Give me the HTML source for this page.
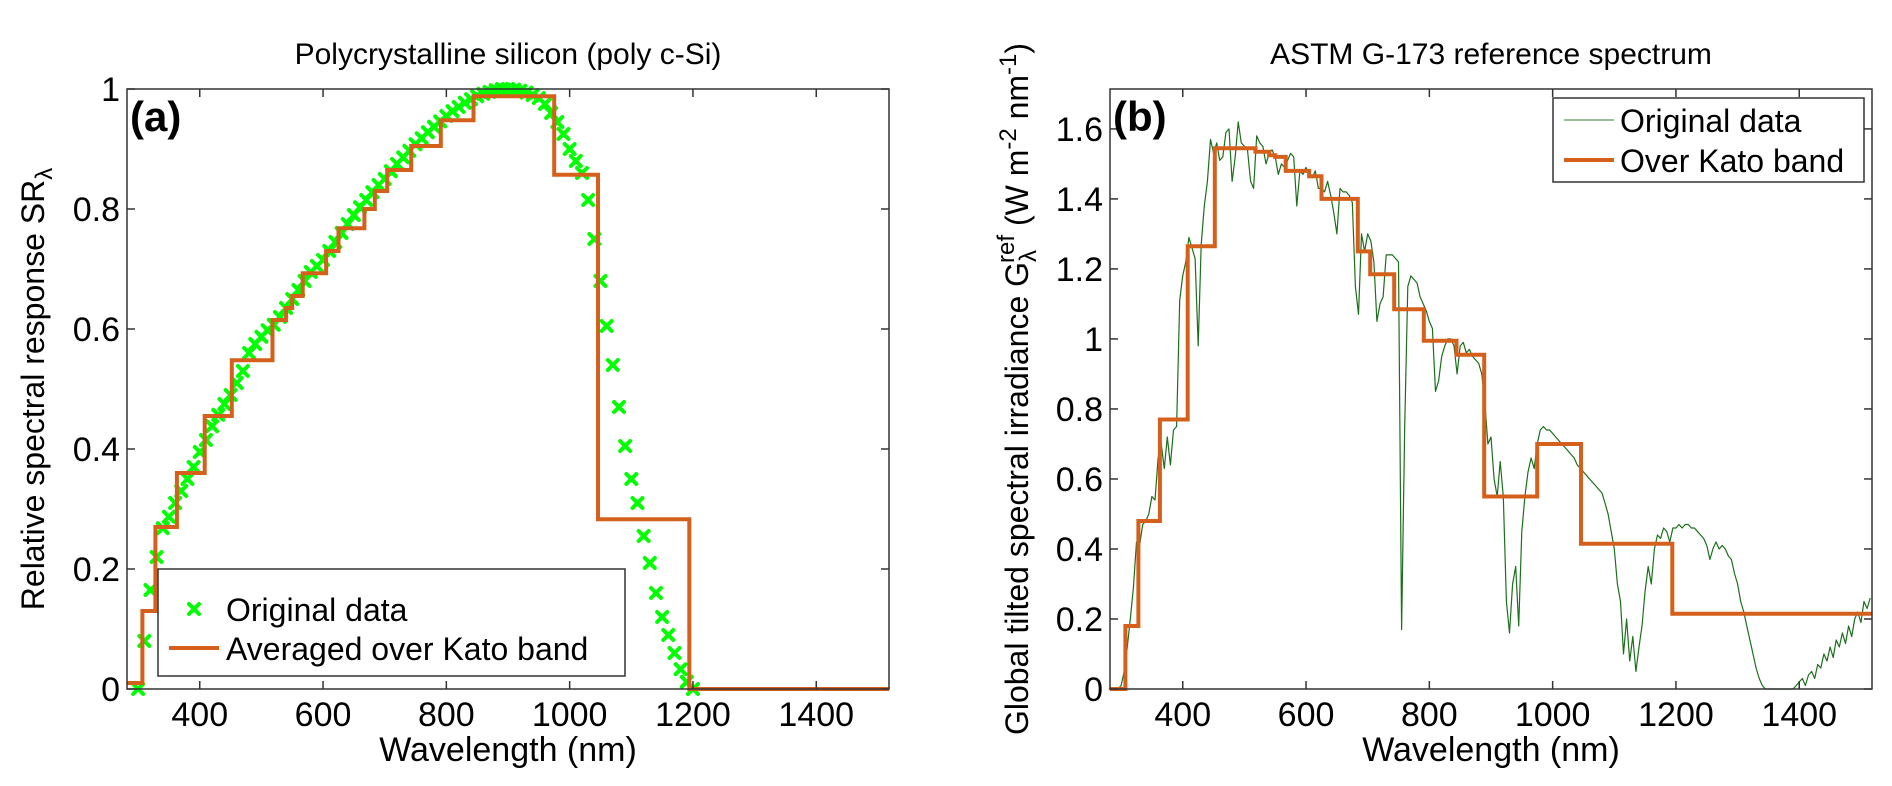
<!DOCTYPE html>
<html><head><meta charset="utf-8"><style>
html,body{margin:0;padding:0;background:#fff;}
svg{display:block;font-family:"Liberation Sans",Arial,sans-serif;}
</style></head><body>
<svg id="fig" width="1892" height="786" viewBox="0 0 1892 786" xmlns="http://www.w3.org/2000/svg">
<rect x="0" y="0" width="1892" height="786" fill="#fff"/>
<g id="pa"></g>
<g id="pb"></g>
</svg>
<script>
const xTicks = [400, 600, 800, 1000, 1200, 1400];
const aYTicks = [0, 0.2, 0.4, 0.6, 0.8, 1];
const aYTickLabels = ["0", "0.2", "0.4", "0.6", "0.8", "1"];
const bYTicks = [0, 0.2, 0.4, 0.6, 0.8, 1, 1.2, 1.4, 1.6];
const bYTickLabels = ["0", "0.2", "0.4", "0.6", "0.8", "1", "1.2", "1.4", "1.6"];
const katoEdges = [282, 307, 328, 363, 408, 452, 518, 540, 550, 567, 605, 625, 667, 684, 704, 743, 791, 844, 889, 975, 1046, 1194, 1518];
const srKato = [0.01, 0.13, 0.27, 0.36, 0.455, 0.548, 0.615, 0.635, 0.655, 0.693, 0.73, 0.768, 0.80, 0.83, 0.865, 0.905, 0.948, 0.988, 0.988, 0.857, 0.283, 0];
const gKato = [0, 0.18, 0.48, 0.77, 1.265, 1.545, 1.535, 1.525, 1.52, 1.48, 1.465, 1.40, 1.40, 1.25, 1.185, 1.085, 0.995, 0.955, 0.55, 0.70, 0.415, 0.215];
const srWl = [300,310,320,330,340,350,360,370,380,390,400,410,420,430,440,450,460,470,480,490,500,510,520,530,540,550,560,570,580,590,600,610,620,630,640,650,660,670,680,690,700,710,720,730,740,750,760,770,780,790,800,810,820,830,840,850,860,870,880,890,900,910,920,930,940,950,960,970,980,990,1000,1010,1020,1030,1040,1050,1060,1070,1080,1090,1100,1110,1120,1130,1140,1150,1160,1170,1180,1190,1200];
const srVal = [0,0.08,0.165,0.22,0.268,0.287,0.31,0.33,0.35,0.37,0.395,0.415,0.438,0.457,0.475,0.49,0.51,0.53,0.56,0.575,0.587,0.598,0.607,0.62,0.635,0.65,0.665,0.68,0.695,0.705,0.715,0.73,0.745,0.76,0.775,0.79,0.803,0.815,0.828,0.84,0.85,0.863,0.875,0.886,0.897,0.908,0.918,0.928,0.937,0.946,0.955,0.963,0.97,0.977,0.983,0.988,0.992,0.995,0.998,1.0,1.0,0.999,0.997,0.994,0.99,0.985,0.975,0.96,0.945,0.925,0.90,0.88,0.86,0.815,0.75,0.68,0.605,0.54,0.47,0.405,0.35,0.31,0.255,0.21,0.16,0.12,0.09,0.06,0.033,0.012,0];
const gWl = [];
for (let w = 280; w <= 1520; w += 5) gWl.push(w);
const gVal = [0,0,0,0,0.01,0.05,0.12,0.2,0.29,0.42,0.41,0.47,0.48,0.50,0.55,0.54,0.66,0.70,0.63,0.72,0.64,0.74,0.75,1.11,1.18,1.22,1.29,1.26,1.23,0.98,1.27,1.38,1.45,1.57,1.53,1.56,1.51,1.52,1.59,1.60,1.45,1.52,1.62,1.56,1.55,1.54,1.45,1.43,1.58,1.56,1.55,1.50,1.53,1.54,1.52,1.47,1.50,1.49,1.51,1.53,1.52,1.38,1.48,1.47,1.49,1.47,1.46,1.48,1.43,1.43,1.42,1.45,1.41,1.36,1.30,1.43,1.42,1.42,1.41,1.39,1.15,1.07,1.30,1.25,1.30,1.28,1.22,1.05,1.10,1.12,1.24,1.24,1.24,1.23,1.22,0.17,0.75,1.15,1.18,1.17,1.16,1.12,1.10,1.08,1.05,1.03,0.85,0.88,0.95,0.98,1.00,1.00,0.98,0.90,0.98,0.99,0.96,0.97,0.95,0.94,0.93,0.90,0.82,0.70,0.72,0.60,0.55,0.65,0.55,0.25,0.16,0.30,0.35,0.18,0.45,0.55,0.62,0.66,0.63,0.70,0.74,0.75,0.74,0.74,0.73,0.72,0.71,0.70,0.69,0.68,0.67,0.66,0.64,0.63,0.62,0.61,0.60,0.59,0.58,0.57,0.56,0.53,0.50,0.45,0.40,0.30,0.25,0.10,0.20,0.08,0.15,0.05,0.12,0.18,0.28,0.35,0.30,0.40,0.44,0.43,0.46,0.45,0.42,0.46,0.46,0.47,0.46,0.47,0.47,0.46,0.46,0.45,0.44,0.43,0.41,0.37,0.40,0.42,0.40,0.41,0.40,0.38,0.37,0.33,0.30,0.25,0.22,0.18,0.14,0.10,0.06,0.03,0.01,0,0,0,0,0,0,0,0,0,0,0.01,0.02,0.03,0.01,0.04,0.05,0.03,0.07,0.06,0.10,0.08,0.12,0.09,0.14,0.12,0.16,0.13,0.18,0.15,0.20,0.22,0.19,0.25,0.23,0.26];

const NS = "http://www.w3.org/2000/svg";
const ORANGE = "#d4601c";
function mk(parent, tag, attrs, text) {
  const e = document.createElementNS(NS, tag);
  for (const k in attrs) e.setAttribute(k, attrs[k]);
  if (text !== undefined) e.textContent = text;
  parent.appendChild(e);
  return e;
}
const XMIN = 282, XMAX = 1518, TOP = 89, BOT = 689;
function makeAxes(g, x0, x1, ymax) {
  const sx = v => x0 + (v - XMIN) / (XMAX - XMIN) * (x1 - x0);
  const sy = v => BOT - v / ymax * (BOT - TOP);
  return {sx, sy};
}
function drawFrame(g, x0, x1, ax, yTicks, yLabels) {
  xTicks.forEach(t => {
    const x = ax.sx(t);
    const tb = mk(g, "line", {x1: x, y1: BOT, x2: x, y2: BOT - 8, stroke: "#333", "stroke-width": 1.5});
    
    
    const tt = mk(g, "line", {x1: x, y1: TOP, x2: x, y2: TOP + 8, stroke: "#333", "stroke-width": 1.5});
    
    
    const lb = mk(g, "text", {x: x, y: 726, "font-size": 34, "text-anchor": "middle", fill: "#000"}, String(t));
    
    
  });
  yTicks.forEach((t, i) => {
    const y = ax.sy(t);
    const tl = mk(g, "line", {x1: x0, y1: y, x2: x0 + 8, y2: y, stroke: "#333", "stroke-width": 1.5});
    
    
    const tr = mk(g, "line", {x1: x1, y1: y, x2: x1 - 8, y2: y, stroke: "#333", "stroke-width": 1.5});
    
    
    const lb = mk(g, "text", {x: x0 - 7, y: y + 12, "font-size": 34, "text-anchor": "end", fill: "#000"}, yLabels[i]);
    
    
  });
  const fr = mk(g, "rect", {x: x0, y: TOP, width: x1 - x0, height: BOT - TOP, fill: "none", stroke: "#333", "stroke-width": 1.5});
  
  
}
function stepPath(ax, vals) {
  let d = "";
  for (let i = 0; i < vals.length; i++) {
    const xa = ax.sx(katoEdges[i]), xb = ax.sx(katoEdges[i + 1]), y = ax.sy(vals[i]);
    d += (i === 0 ? "M" : "L") + xa.toFixed(1) + "," + y.toFixed(1) + "L" + xb.toFixed(1) + "," + y.toFixed(1);
  }
  return d;
}

/* ---------- Panel A ---------- */
const ga = document.getElementById("pa");
const A0 = 127, A1 = 889;
const axA = makeAxes(ga, A0, A1, 1);
const mg = mk(ga, "g", {stroke: "#00ff00", "stroke-width": 4, "stroke-linecap": "round"});


srWl.forEach((w, i) => {
  const x = axA.sx(w), y = axA.sy(srVal[i]);
  const m = mk(mg, "path", {d: `M${x-5},${y-5}L${x+5},${y+5}M${x-5},${y+5}L${x+5},${y-5}`});
  
  
});
const sa = mk(ga, "path", {d: stepPath(axA, srKato), fill: "none", stroke: ORANGE, "stroke-width": 4, "stroke-linejoin": "miter"});


drawFrame(ga, A0, A1, axA, aYTicks, aYTickLabels);
mk(ga, "text", {x: 508, y: 64, "font-size": 30, "text-anchor": "middle",  }, "Polycrystalline silicon (poly c-Si)");
mk(ga, "text", {x: 130, y: 131, "font-size": 42, "font-weight": "bold",  }, "(a)");
mk(ga, "text", {x: 508, y: 761, "font-size": 34, "text-anchor": "middle",  }, "Wavelength (nm)");
const yla = mk(ga, "text", {transform: "translate(44,389) rotate(-90)", "font-size": 32, "text-anchor": "middle"});


yla.innerHTML = 'Relative spectral response SR<tspan font-size="24" dy="8">λ</tspan>';
const la = mk(ga, "g", {});


mk(la, "rect", {x: 158, y: 569, width: 467, height: 107, fill: "#fff", stroke: "#333", "stroke-width": 1.5});
mk(la, "path", {d: "M189,604L199,614M189,614L199,604", stroke: "#00ff00", "stroke-width": 4, "stroke-linecap": "round"});
mk(la, "text", {x: 226, y: 621, "font-size": 32,  }, "Original data");
mk(la, "line", {x1: 169, y1: 648, x2: 219, y2: 648, stroke: ORANGE, "stroke-width": 4});
mk(la, "text", {x: 226, y: 660, "font-size": 32,  }, "Averaged over Kato band");

/* ---------- Panel B ---------- */
const gb = document.getElementById("pb");
const B0 = 1110, B1 = 1872;
const axB = makeAxes(gb, B0, B1, 1.714);
let dg = "";
gWl.forEach((w, i) => { dg += (i ? "L" : "M") + axB.sx(w).toFixed(1) + "," + axB.sy(gVal[i]).toFixed(1); });
const gl = mk(gb, "path", {d: dg, fill: "none", stroke: "#1c6f1c", "stroke-width": 1.2, "stroke-linejoin": "round"});


const sb = mk(gb, "path", {d: stepPath(axB, gKato), fill: "none", stroke: ORANGE, "stroke-width": 4});


drawFrame(gb, B0, B1, axB, bYTicks, bYTickLabels);
mk(gb, "text", {x: 1491, y: 64, "font-size": 30, "text-anchor": "middle",  }, "ASTM G-173 reference spectrum");
mk(gb, "text", {x: 1113, y: 131, "font-size": 42, "font-weight": "bold",  }, "(b)");
mk(gb, "text", {x: 1491, y: 761, "font-size": 34, "text-anchor": "middle",  }, "Wavelength (nm)");
const ylb = mk(gb, "text", {transform: "translate(1028,389) rotate(-90)", "font-size": 32, "text-anchor": "middle"});


ylb.innerHTML = 'Global tilted spectral irradiance G<tspan font-size="24" dy="8">λ</tspan><tspan font-size="24" dx="-13" dy="-22">ref</tspan><tspan dy="14"> (W m</tspan><tspan font-size="24" dy="-12">-2</tspan><tspan dy="12"> nm</tspan><tspan font-size="24" dy="-12">-1</tspan><tspan dy="12">)</tspan>';
const lb = mk(gb, "g", {});


mk(lb, "rect", {x: 1553, y: 98, width: 311, height: 84, fill: "#fff", stroke: "#333", "stroke-width": 1.5});
mk(lb, "line", {x1: 1564, y1: 120, x2: 1614, y2: 120, stroke: "#5a9a5a", "stroke-width": 1.2});
mk(lb, "text", {x: 1620, y: 132, "font-size": 32,  }, "Original data");
mk(lb, "line", {x1: 1564, y1: 160, x2: 1614, y2: 160, stroke: ORANGE, "stroke-width": 4});
mk(lb, "text", {x: 1620, y: 172, "font-size": 32,  }, "Over Kato band");
</script>
</body></html>
